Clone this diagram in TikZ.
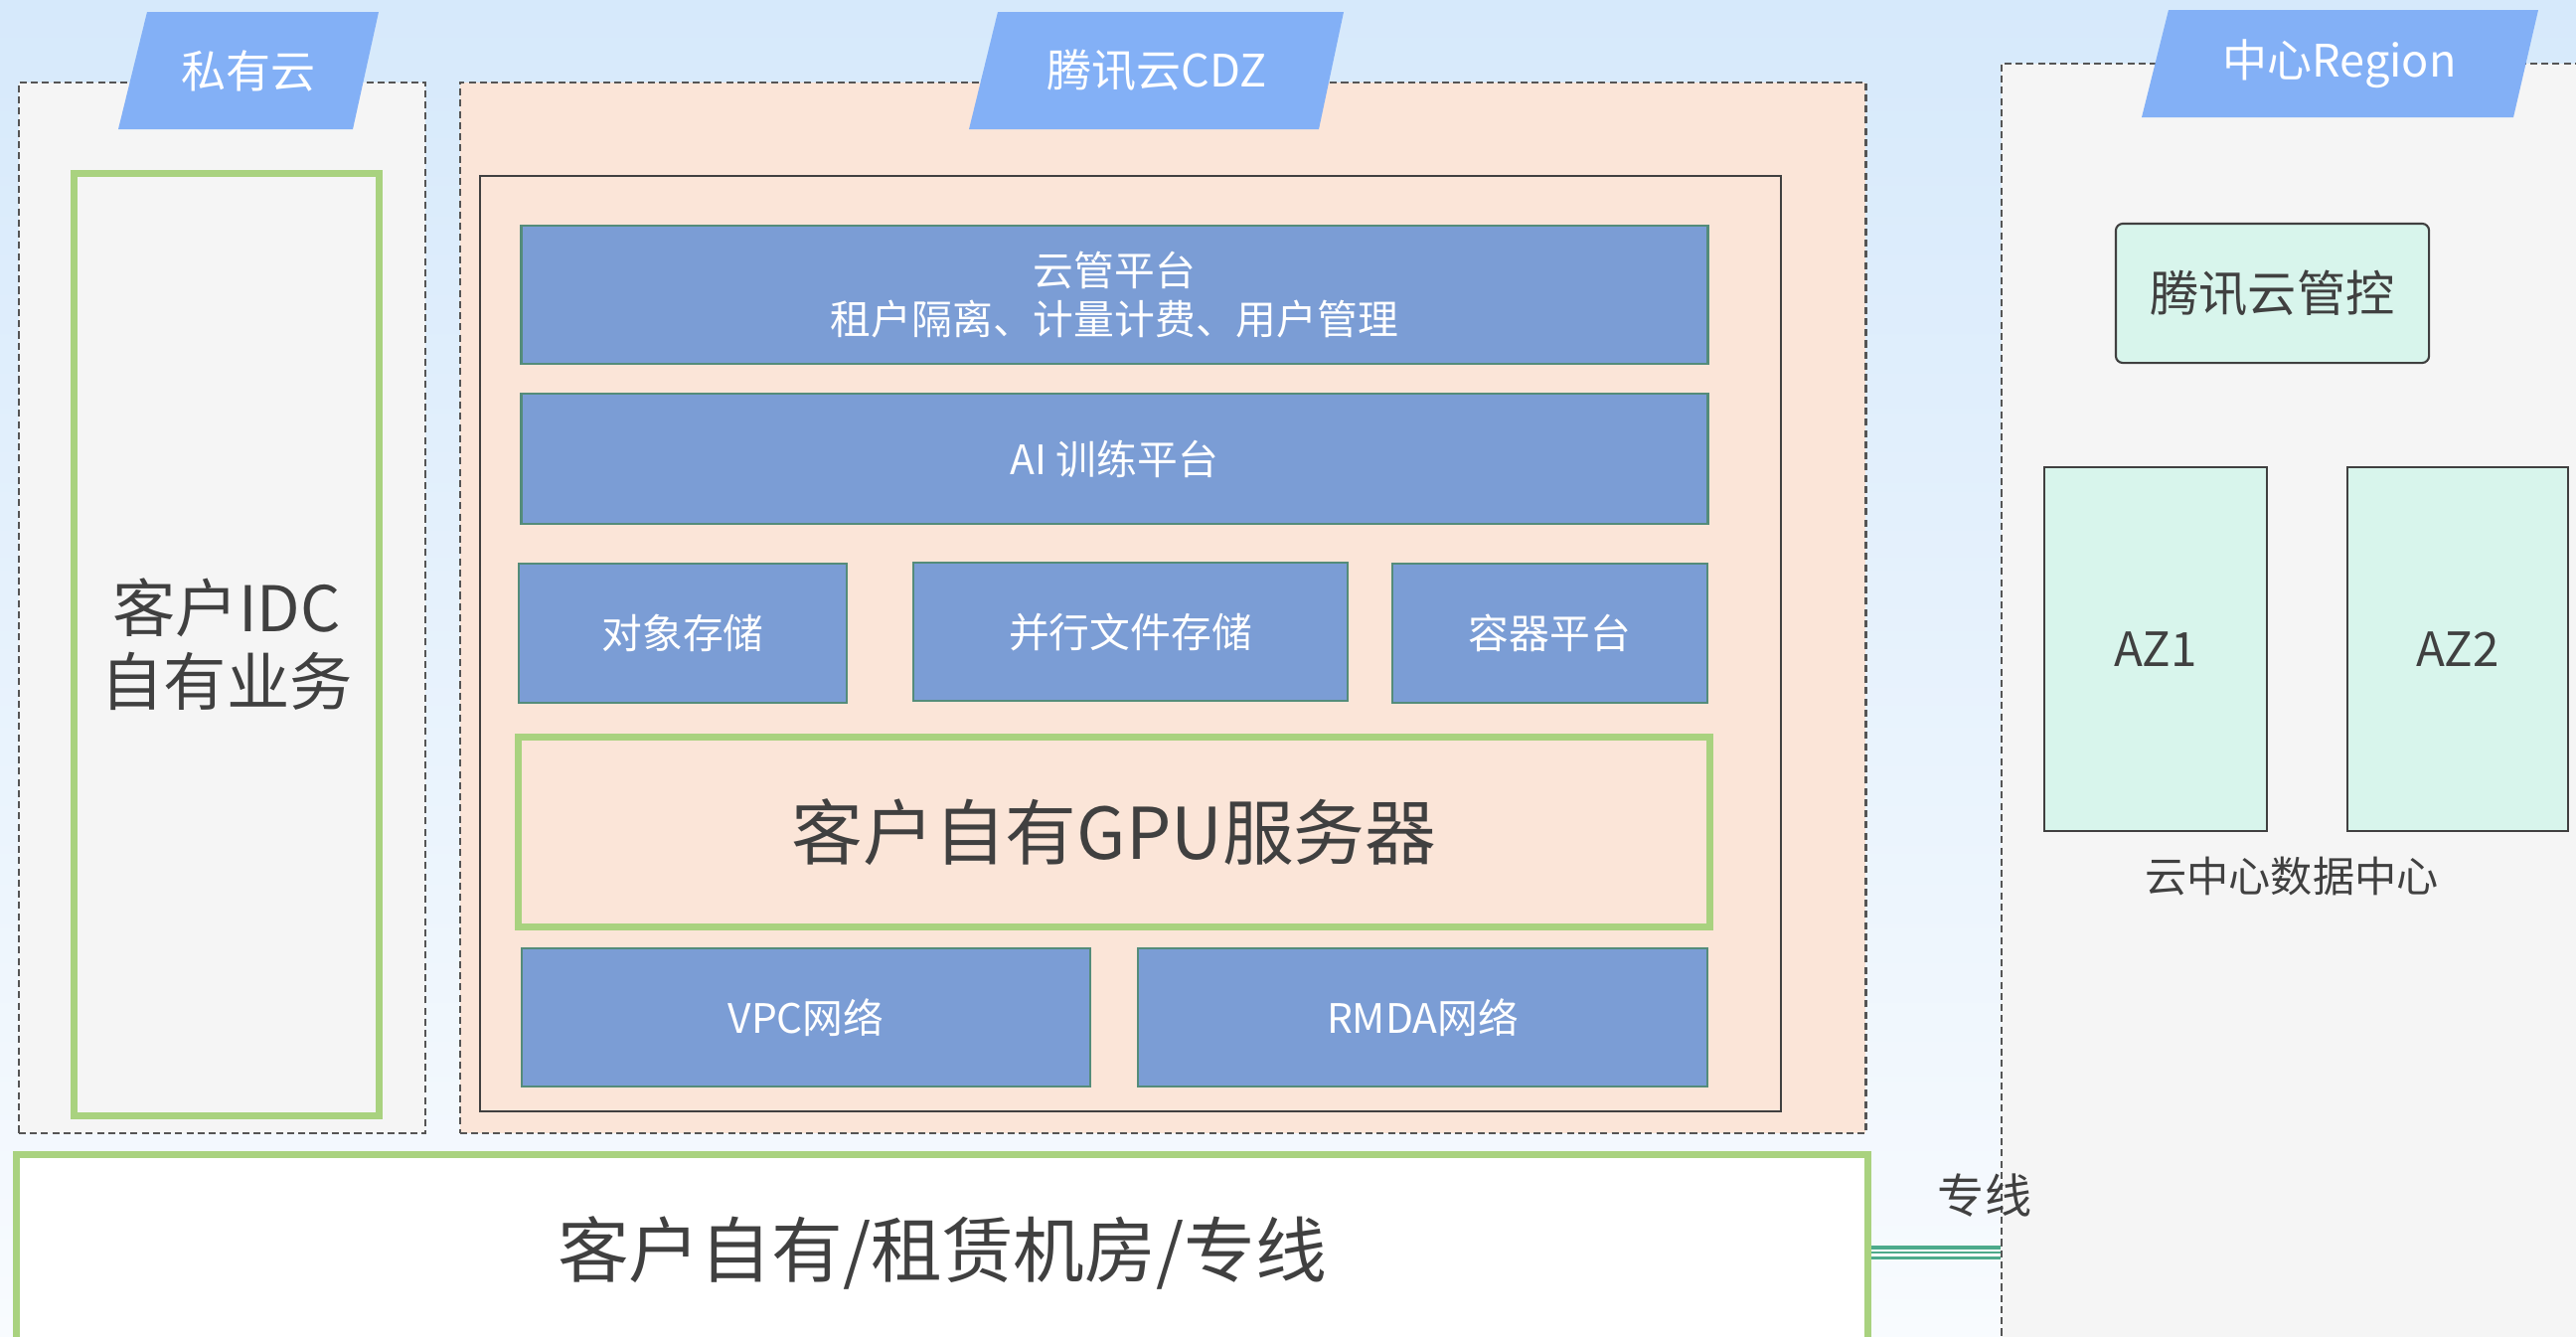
\documentclass[tikz,border=0pt]{standalone}
\usepackage{fontspec}
\setmainfont{Noto Sans CJK SC}
\definecolor{bgtop}{RGB}{214,233,251}
\definecolor{bgbot}{RGB}{248,251,254}
\definecolor{zedge}{RGB}{85,85,85}
\definecolor{gfill}{RGB}{245,245,245}
\definecolor{pfill}{RGB}{251,229,216}
\definecolor{tabc}{RGB}{131,176,246}
\definecolor{bfill}{RGB}{123,157,213}
\definecolor{bedge}{RGB}{84,140,122}
\definecolor{grn}{RGB}{169,210,127}
\definecolor{mint}{RGB}{216,245,236}
\definecolor{txt}{RGB}{64,64,64}
\definecolor{lnc}{RGB}{77,170,140}
\begin{document}
\begin{tikzpicture}[x=0.01cm, y=-0.01cm,
  zone/.style={draw=zedge, line width=0.6pt, dash pattern=on 2pt off 1.2pt},
  tab/.style={fill=tabc},
  tabtxt/.style={text=white, font=\fontsize{12.8}{15}\selectfont},
  blk/.style={draw=bedge, fill=bfill, line width=0.7pt, text=white, align=center, font=\fontsize{11.6}{14.2}\selectfont},
  gbox/.style={draw=grn, line width=2pt, text=txt, align=center, font=\fontsize{20.4}{24}\selectfont},
  az/.style={draw=txt, fill=mint, line width=0.6pt, text=txt, font=\fontsize{13.5}{16}\selectfont},
  lbl/.style={text=txt, font=\fontsize{12}{14}\selectfont},
  lnk/.style={draw=lnc, line width=0.9pt, double=white, double distance=2pt}]
\path[use as bounding box] (0,0) rectangle (2592,1344);
\clip (0,0) rectangle (2592,1344);
\shade[top color=bgtop, bottom color=bgbot] (0,0) rectangle (2592,1344);
\node[zone, fill=gfill, minimum width=4.09cm, minimum height=10.57cm] (pvt) at (223.5,611.5) {};
\node[zone, fill=pfill, minimum width=14.14cm, minimum height=10.57cm] (cdz) at (1170,611.5) {};
\node[zone, fill=gfill, minimum width=6.36cm, minimum height=13.36cm] (reg) at (2332,732) {};
\fill[tab] (148,12) -- (381,12) -- (355,130) -- (119,130) -- cycle;
\fill[tab] (1004,12) -- (1352,12) -- (1327,130) -- (975,130) -- cycle;
\fill[tab] (2182,10) -- (2554,10) -- (2529,118) -- (2155,118) -- cycle;
\node[tabtxt] (pvtname) at (250,71) {私有云};
\node[tabtxt] (cdzname) at (1164,71) {腾讯云CDZ};
\node[tabtxt] (regname) at (2354,64) {中心Region};
\node[gbox, minimum width=3.06cm, minimum height=9.47cm, font=\fontsize{18}{21}\selectfont] (idc) at (228,648.5) {客户IDC\\自有业务};
\node[draw=txt, line width=0.6pt, minimum width=13.09cm, minimum height=9.41cm] (core) at (1137.5,647.5) {};
\node[blk, minimum width=11.93cm, minimum height=1.39cm] (mgmt) at (1121.5,296.5) {云管平台\\租户隔离、计量计费、用户管理};
\node[blk, minimum width=11.93cm, minimum height=1.31cm] (train) at (1121.5,461.5) {AI 训练平台};
\node[blk, minimum width=3.30cm, minimum height=1.40cm] (obj) at (687,637) {对象存储};
\node[blk, minimum width=4.37cm, minimum height=1.39cm] (pfs) at (1137.5,635.5) {并行文件存储};
\node[blk, minimum width=3.17cm, minimum height=1.40cm] (ctr) at (1559.5,637) {容器平台};
\node[gbox, minimum width=11.98cm, minimum height=1.90cm] (gpu) at (1121,837) {客户自有GPU服务器};
\node[blk, minimum width=5.72cm, minimum height=1.39cm] (vpc) at (811,1023.5) {VPC网络};
\node[blk, minimum width=5.73cm, minimum height=1.39cm] (rdma) at (1431.5,1023.5) {RMDA网络};
\node[gbox, fill=white, minimum width=18.62cm, minimum height=1.96cm] (floor) at (948,1260) {客户自有/租赁机房/专线};
\node[az, rounded corners=2pt, minimum width=3.15cm, minimum height=1.40cm, font=\fontsize{14}{16}\selectfont] (ctl) at (2286.5,295) {腾讯云管控};
\node[az, minimum width=2.24cm, minimum height=3.66cm] (az1) at (2169,653) {AZ1};
\node[az, minimum width=2.22cm, minimum height=3.66cm] (az2) at (2473,653) {AZ2};
\node[lbl] (dc) at (2306,881) {云中心数据中心};
\node[lbl, font=\fontsize{13.4}{15}\selectfont] (line) at (1997,1203) {专线};
\draw[lnk] (floor.east) -- (floor.east -| reg.west);
\draw[draw=lnc, line width=0.8pt] (floor.east) -- (floor.east -| reg.west);
\end{tikzpicture}
\end{document}
